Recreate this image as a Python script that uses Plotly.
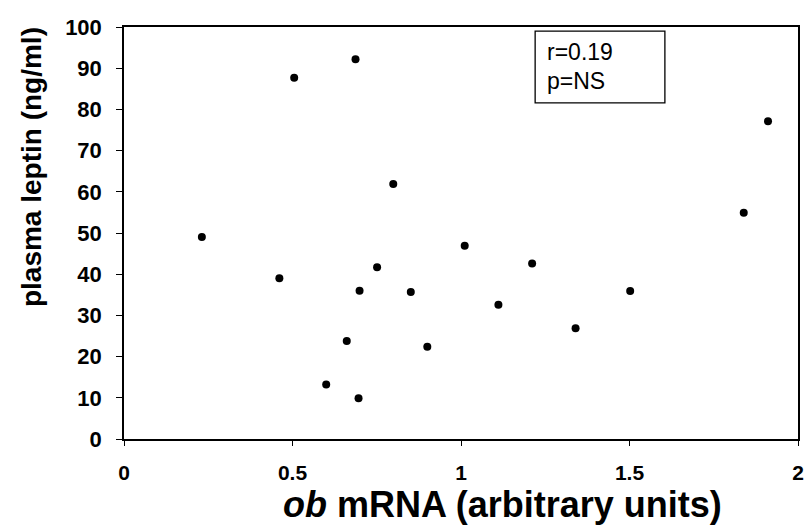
import plotly.graph_objects as go

ob_mrna = [0.231, 0.505, 0.687, 0.799, 0.461, 0.751, 0.699, 0.661, 0.600, 0.696,
           1.911, 1.839, 1.011, 1.211, 0.851, 0.900, 1.111, 1.340, 1.502]
leptin = [49.0, 87.7, 92.2, 61.9, 39.0, 41.7, 36.0, 23.8, 13.2, 9.9,
          77.1, 54.9, 46.9, 42.6, 35.7, 22.4, 32.6, 26.9, 35.9]

x_ticks = [0, 0.5, 1, 1.5, 2]
x_ticklabels = ["<b>0</b>", "<b>0.5</b>", "<b>1</b>", "<b>1.5</b>", "<b>2</b>"]
y_ticks = list(range(0, 101, 10))
y_ticklabels = ["<b>%d</b>" % v for v in y_ticks]

stat_lines = ["r=0.19", "p=NS"]

FONT = "Arial, Liberation Sans, Helvetica, sans-serif"

fig = go.Figure()
fig.add_trace(go.Scatter(
    x=ob_mrna, y=leptin, mode="markers",
    marker=dict(color="black", size=8, line=dict(width=0)),
    showlegend=False, hoverinfo="x+y",
))

fig.update_layout(
    width=810, height=529,
    margin=dict(l=124, r=6, t=27, b=90),
    paper_bgcolor="white", plot_bgcolor="white",
    font=dict(family=FONT, color="black", size=22),
    xaxis=dict(
        range=[0, 2], tickvals=x_ticks, ticktext=x_ticklabels,
        showgrid=False, zeroline=False,
        showline=True, linecolor="black", linewidth=1.5, mirror=True,
        ticks="outside", ticklen=5, tickwidth=1.2, tickcolor="black",
        tickfont=dict(size=21, family=FONT, color="black"),
        ticklabelstandoff=9,
    ),
    yaxis=dict(
        range=[0, 100], tickvals=y_ticks, ticktext=y_ticklabels,
        showgrid=False, zeroline=False,
        showline=True, linecolor="black", linewidth=1.5, mirror=True,
        ticks="outside", ticklen=6, tickwidth=1.2, tickcolor="black",
        tickfont=dict(size=22, family=FONT, color="black"),
        ticklabelstandoff=10,
    ),
)

# axis titles
fig.add_annotation(
    text="<b><i>ob</i> mRNA (arbitrary units)</b>",
    xref="paper", yref="paper", x=0.562, y=-0.158,
    xanchor="center", yanchor="middle", showarrow=False,
    font=dict(size=36, family=FONT, color="black"),
)
fig.add_annotation(
    text="<b>plasma leptin (ng/ml)</b>",
    xref="paper", yref="paper", x=-0.138, y=0.66,
    xanchor="center", yanchor="middle", textangle=-90, showarrow=False,
    font=dict(size=28, family=FONT, color="black"),
)

# stats box
fig.add_shape(type="rect", xref="x", yref="y",
              x0=1.22, x1=1.605, y0=81.6, y1=99.0,
              line=dict(color="black", width=1.3), fillcolor="white", layer="below")
fig.add_annotation(text=stat_lines[0], xref="x", yref="y", x=1.25, y=93.9,
                   xanchor="left", yanchor="middle", showarrow=False,
                   font=dict(size=23, family=FONT, color="black"))
fig.add_annotation(text=stat_lines[1], xref="x", yref="y", x=1.25, y=86.8,
                   xanchor="left", yanchor="middle", showarrow=False,
                   font=dict(size=23, family=FONT, color="black"))

fig.write_html("out.html", config={"displayModeBar": False},
               post_script="document.body.style.margin='0px';")
